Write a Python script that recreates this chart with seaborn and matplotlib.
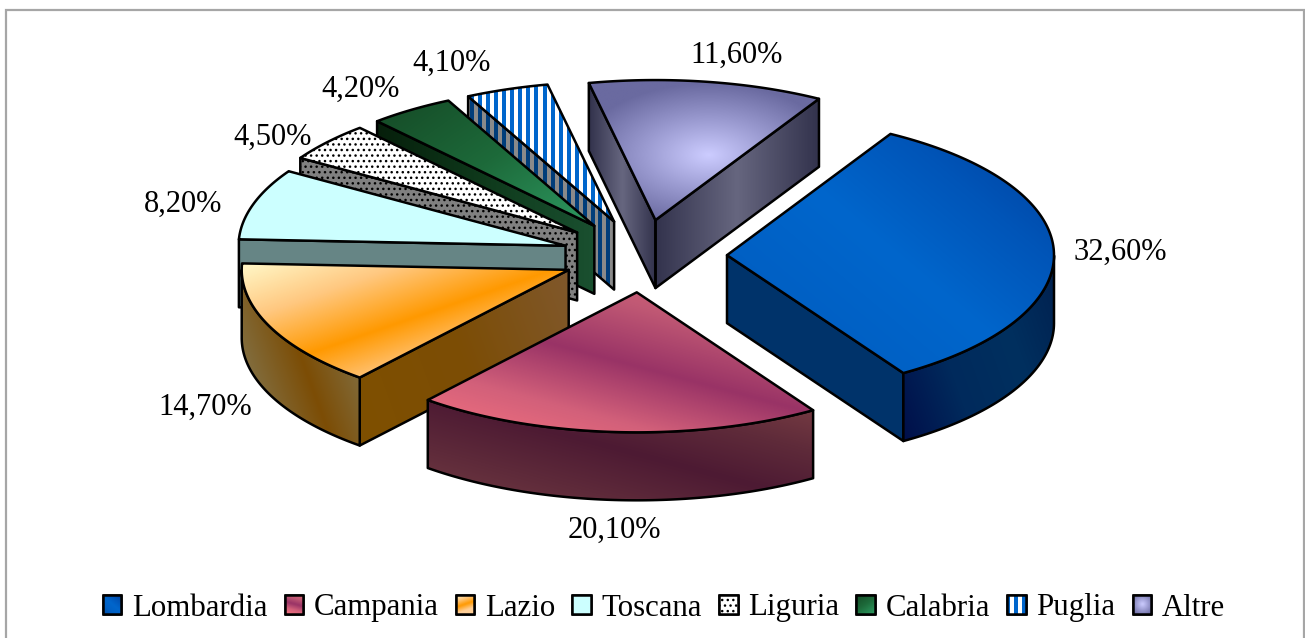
import numpy as np
import seaborn as sns
import matplotlib
matplotlib.use("Agg")
import matplotlib.pyplot as plt
from matplotlib.colors import ListedColormap
from matplotlib.patches import Patch, Polygon, Rectangle

# data
regioni = ["Lombardia", "Campania", "Lazio", "Toscana", "Liguria", "Calabria", "Puglia", "Altre"]
quote = [32.6, 20.1, 14.7, 8.2, 4.5, 4.2, 4.1, 11.6]
etichette = ["32,60%", "20,10%", "14,70%", "8,20%", "4,50%", "4,20%", "4,10%", "11,60%"]

sns.set_style("white")
plt.rcParams["font.family"] = ["Liberation Serif", "DejaVu Serif"]

W, H = 1305, 638
# size of the tilted pie on screen, pixels per unit of radius
SX, SY = 327, 140
CX, CY = 642, 256
DEPTH = 68 / SY
LW = 1.8


def px(x, y):
    return (x - CX) / SX, (CY - y) / SY


def fissa_assi():
    ax.set_aspect("auto")
    ax.set_xlim(px(0, 0)[0], px(W, 0)[0])
    ax.set_ylim(px(0, H)[1], px(0, 0)[1])


fig = plt.figure(figsize=(W / 100, H / 100), dpi=100)
ax = fig.add_axes([0, 0, 1, 1])

# grey frame, its bottom side falls outside the picture
fig.add_artist(Rectangle((6 / W, -10 / H), 1298 / W, 638 / H, fill=False, ec="#a6a6a6", lw=1.6,
                         transform=fig.transFigure))

esplosione = [0.26, 0.26, 0.245, 0.245, 0.26, 0.26, 0.26, 0.26]
wedges, _ = ax.pie(quote, explode=esplosione, startangle=60, counterclock=False, radius=1)


def linear(colors, angle):
    return {"kind": "linear", "cmap": sns.blend_palette(colors, as_cmap=True, n_colors=64), "angle": angle}


def radial(colors, centre, rx, ry):
    return {"kind": "radial", "cmap": sns.blend_palette(colors, as_cmap=True, n_colors=64),
            "centre": centre, "rx": rx, "ry": ry}


def stripes(c1, c2):
    return {"kind": "stripes", "cmap": ListedColormap([c1, c2])}


def flat(color, hatch=None):
    return {"kind": "flat", "color": color, "hatch": hatch}


stili = {
    "Lombardia": dict(top=linear(["#004fa8", "#0060c4", "#0066cc", "#0055b8", "#003f9c"], 50),
                      outer=linear(["#000f4a", "#002a5c", "#00305f", "#00204f"], 20),
                      side=flat("#00336a")),
    "Campania": dict(top=linear(["#f4717f", "#d2607a", "#993366", "#c05874", "#e06c7c"], 75),
                     outer=linear(["#703a42", "#5e2a3a", "#4d1a33", "#5f2b3a", "#7a3e44"], 75),
                     side=flat("#4d1a33")),
    "Lazio": dict(top=linear(["#ffcf98", "#ffcf98", "#ff9900", "#ffc880", "#fff8c8"], 109),
                  outer=linear(["#858060", "#7c4d05", "#858060"], 20),
                  side=linear(["#7f5000", "#7c4d05", "#80582c"], 20)),
    "Toscana": dict(top=flat("#ccffff"), outer=flat("#668585"), side=flat("#668585")),
    "Liguria": dict(top=flat("#ffffff", "..."), outer=flat("#808080", "..."), side=flat("#808080", "...")),
    "Calabria": dict(top=linear(["#2e9a62", "#1d6a3a", "#154a26"], 125),
                     outer=flat("#0c3318"),
                     side=linear(["#061f0b", "#0f3a1c", "#1a5030"], 0)),
    "Puglia": dict(top=stripes("#ffffff", "#0066cc"), outer=stripes("#8a8a8a", "#003d7a"),
                   side=stripes("#8a8a8a", "#003d7a")),
    "Altre": dict(top=radial(["#ccccff", "#9a9ad0", "#6a6aa0"], (708, 155), 130, 72),
                  outer=flat("#33334d"),
                  side=linear(["#33334d", "#66667f", "#33334d"], 0)),
}


def riempi(verts, stile, z):
    verts = np.asarray(verts)
    if stile["kind"] == "flat":
        face = Polygon(verts, closed=True, fc=stile["color"], ec="black" if stile["hatch"] else "none",
                       hatch=stile["hatch"], lw=0, zorder=z)
        ax.add_patch(face)
    else:
        x0, y0 = verts.min(axis=0)
        x1, y1 = verts.max(axis=0)
        nx = max(int((x1 - x0) * SX), 2)
        ny = max(int((y1 - y0) * SY), 2)
        gx, gy = np.meshgrid(np.linspace(x0, x1, nx) * SX, np.linspace(y0, y1, ny) * SY)
        if stile["kind"] == "linear":
            a = np.radians(stile["angle"])
            t = gx * np.cos(a) + gy * np.sin(a)
            t = (t - t.min()) / (t.max() - t.min())
        elif stile["kind"] == "radial":
            cx, cy = px(*stile["centre"])
            t = np.clip(np.hypot((gx - cx * SX) / stile["rx"], (gy - cy * SY) / stile["ry"]), 0, 1)
        else:
            t = np.floor(gx / 4) % 2
        clip = Polygon(verts, closed=True, fc="none", ec="none", zorder=z)
        ax.add_patch(clip)
        im = ax.imshow(t, cmap=stile["cmap"], vmin=0, vmax=1, extent=(x0, x1, y0, y1), origin="lower",
                       aspect="auto", zorder=z, interpolation="nearest" if stile["kind"] == "stripes" else "bilinear")
        im.set_clip_path(clip)
    ax.add_patch(Polygon(verts, closed=True, fill=False, ec="black", lw=LW, joinstyle="round", zorder=z + 0.5))


# paint from the back to the front
ordine = ["Altre", "Puglia", "Calabria", "Liguria", "Toscana", "Lazio", "Lombardia", "Campania"]
for k, nome in enumerate(ordine):
    w = wedges[regioni.index(nome)]
    st = stili[nome]
    c = np.array(w.center)
    angoli = np.radians(np.linspace(w.theta1, w.theta2, 120))
    arco = c + w.r * np.column_stack([np.cos(angoli), np.sin(angoli)])
    giu = np.array([0, -DEPTH])
    z = 2 + k * 2
    w.set_visible(False)

    # radial walls that look at the viewer
    if np.cos(np.radians(w.theta1)) > 0:
        riempi([c, arco[0], arco[0] + giu, c + giu], st["side"], z)
    if np.cos(np.radians(w.theta2)) < 0:
        riempi([c, arco[-1], arco[-1] + giu, c + giu], st["side"], z)
    # outer wall, only the front part of the arc
    fronte = arco[np.sin(angoli) < 0]
    if len(fronte) > 1:
        riempi(np.vstack([fronte, fronte[::-1] + giu]), st["outer"], z + 0.6)
    riempi(np.vstack([c, arco]), st["top"], z + 1.2)

# data labels
pos_etichette = [(1120, 252), (614, 530), (205, 407), (183, 204), (273, 137), (361, 89), (452, 63), (737, 55)]
for testo, (x, y) in zip(etichette, pos_etichette):
    ax.text(*px(x, y), testo, fontsize=22, ha="center", va="center", color="black", zorder=40)

# legend
colori_legenda = ["#0058b8", "#a84068", "#ff9900", "#ccffff", "#ffffff", "#1d6a3a", "#0066cc", "#aaaadd"]
maniglie = [Patch(fc=c, ec="black", lw=LW, label=r) for c, r in zip(colori_legenda, regioni)]
leg = ax.legend(handles=maniglie, loc="center", bbox_to_anchor=(664 / W, 1 - 608 / H), ncols=8, frameon=False,
                fontsize=22.25, handlelength=0.6, handleheight=0.6, handletextpad=0.35, columnspacing=0.55,
                borderpad=0, labelspacing=0, labelcolor="black")

fissa_assi()
ax.set_axis_off()
ax.set_frame_on(False)

# the legend keys get the same fills as the slices
fig.canvas.draw()
for nome, chiave in zip(regioni, leg.get_patches()):
    box = chiave.get_window_extent()
    x0, y0 = px(box.x0, H - box.y1)
    x1, y1 = px(box.x1, H - box.y0)
    st = dict(stili[nome]["top"])
    if st["kind"] == "radial":
        st.update(centre=((box.x0 + box.x1) / 2, H - (box.y0 + box.y1) / 2), rx=13, ry=13)
    riempi([(x0, y0), (x1, y0), (x1, y1), (x0, y1)], st, 50)
fissa_assi()

fig.savefig("out.png", dpi=100, facecolor="white")
